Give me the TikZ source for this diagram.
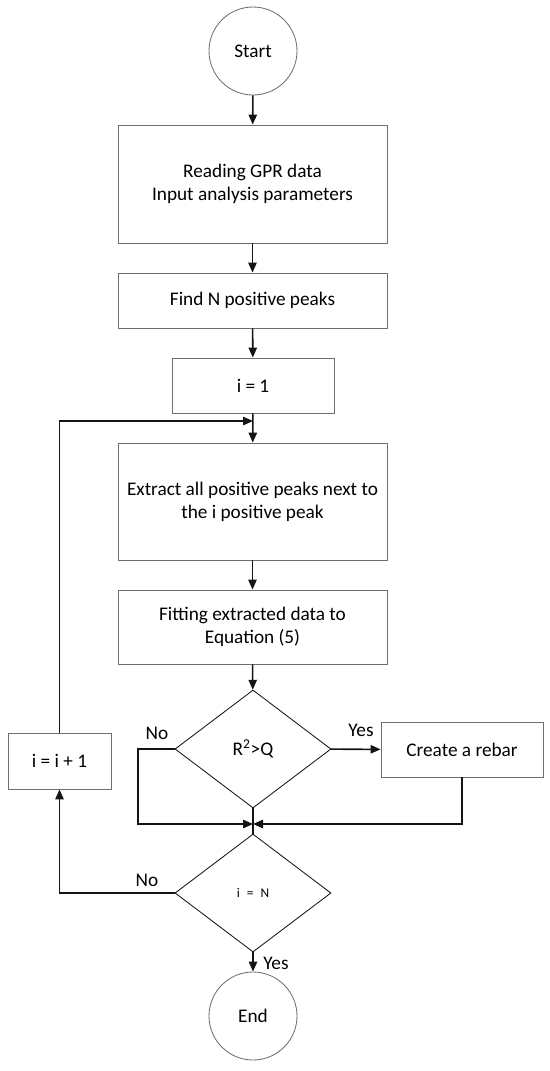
\documentclass[tikz,border=0pt]{standalone}
\usepackage{fontspec}
\setmainfont{Carlito}
\usepackage{tikz}
\usetikzlibrary{arrows.meta,positioning,calc,shapes.geometric}
\definecolor{FlowLine}{RGB}{20,20,20}
\definecolor{FlowBorder}{RGB}{110,110,110}
\tikzset{
  passo/.style={draw=FlowBorder, fill=white, line width=0.6pt, align=center,
                inner sep=2pt, minimum height=1.375cm},
  terminal/.style={circle, draw=FlowBorder, line width=0.6pt, minimum size=2.2cm,
                inner sep=0pt},
  decisao/.style={diamond, draw=FlowLine, line width=0.6pt, aspect=1.32,
                minimum width=3.9cm, minimum height=2.95cm, inner sep=0pt},
  seta/.style={-{Triangle[length=2.5mm,width=2.1mm]}, line width=1.1pt, FlowLine},
  linha/.style={line width=1.1pt, FlowLine},
  rotulo/.style={inner sep=0pt},
}

\begin{document}
\begin{tikzpicture}[font=\fontsize{13.7}{16.4}\selectfont]
  \useasboundingbox (0,0) rectangle (13.75,-26.775);

  % Coluna principal
  \node[terminal] (inicio) at (6.325,-1.275) {Start};
  \node[passo, minimum width=6.725cm, minimum height=2.95cm] (leitura) at (6.3125,-4.6)
    {Reading GPR data\\Input analysis parameters};
  \node[passo, minimum width=6.725cm] (picos) at (6.3125,-7.5125) {Find N positive peaks};
  \node[passo, minimum width=4.05cm] (ini) at (6.325,-9.6375) {i = 1};
  \node[passo, minimum width=6.725cm, minimum height=2.925cm] (extrai) at (6.3125,-12.5375)
    {Extract all positive peaks next to\\the i positive peak};
  \node[passo, minimum width=6.725cm, minimum height=1.85cm] (ajuste) at (6.3125,-15.675)
    {Fitting extracted data to\\Equation (5)};
  \node[decisao] (teste) at (6.325,-18.725) {R\textsuperscript{2}>Q};
  \node[decisao, font=\fontsize{9.5}{11}\selectfont] (fim) at (6.325,-22.325)
    {i\hspace{5pt}=\hspace{5pt}N};
  \node[terminal] (final) at (6.325,-25.4) {End};

  % Ramos laterais
  \node[passo, minimum width=4.05cm] (rebar) at (11.55,-18.7375) {Create a rebar};
  \node[passo, minimum width=2.575cm, minimum height=1.4cm] (incr) at (1.4875,-19.025) {i = i + 1};

  \coordinate (retorno) at (6.325,-10.525);
  \coordinate (junta) at (6.325,-20.6);

  % Setas
  \draw[seta] (inicio) -- (leitura);
  \draw[seta] (leitura) -- (picos);
  \draw[seta] (picos) -- (ini);
  \draw[seta] (ini) -- (extrai);
  \draw[seta] (extrai) -- (ajuste);
  \draw[seta] (ajuste) -- (teste);
  \draw[seta] (teste) -- (rebar);
  \draw[seta] (teste.west) -- (3.45,-18.725) |- (junta);
  \draw[seta] (rebar.south) |- (junta);
  \draw[linha] (teste.south) -- (fim.north);
  \draw[seta] (fim.west) -| (incr.south);
  \draw[seta] (incr.north) |- (retorno);
  \draw[seta] (fim) -- (final);

  % Rotulos
  \node[rotulo] (simA) at (9.025,-18.25) {Yes};
  \node[rotulo] (naoA) at (3.925,-18.325) {No};
  \node[rotulo] (naoB) at (3.675,-22.0) {No};
  \node[rotulo] (simB) at (6.9,-24.075) {Yes};
\end{tikzpicture}
\end{document}
